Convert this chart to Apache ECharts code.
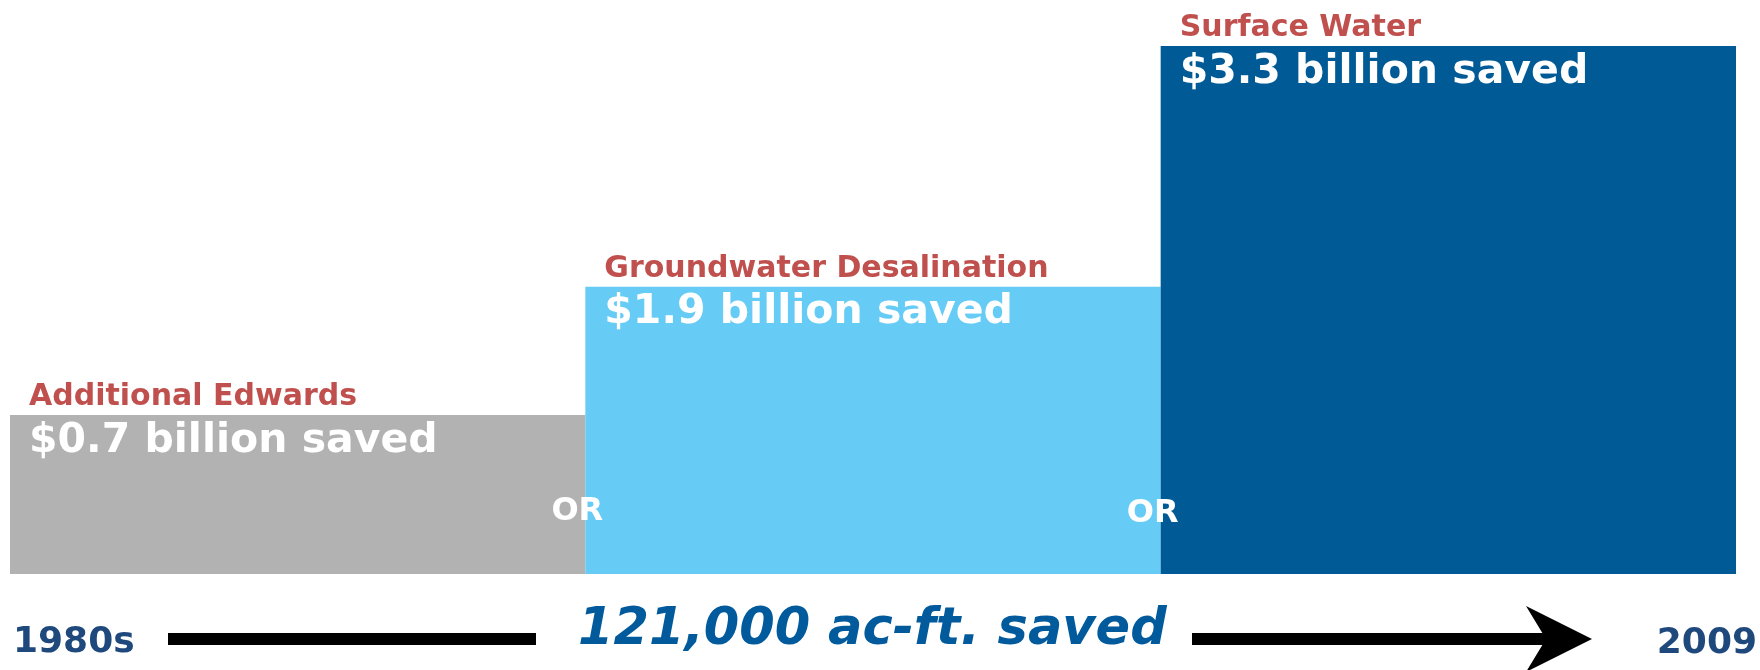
<!DOCTYPE html>
<html>
<head>
<meta charset="utf-8">
<script src="https://cdn.jsdelivr.net/npm/echarts@6/dist/echarts.min.js"></script>
<style>
html,body{margin:0;padding:0;background:#fff;}
#chart{width:1760px;height:670px;}
</style>
</head>
<body>
<div id="chart"></div>
<script>
// ---- data ----
var categories = ['Additional Edwards', 'Groundwater Desalination', 'Surface Water'];
var relativeHeight = [30.1, 54.4, 100];          // bar heights (relative scale)
var billionSaved = [0.7, 1.9, 3.3];               // $ billion saved
var orMarks = [[1, 11.8], [2, 11.5]];             // "OR" markers at category boundaries
var startLabel = '1980s';
var endLabel = '2009';
var centerLabel = '121,000 ac-ft. saved';
var barColors = ['#B2B2B2', '#66CCF5', '#005A96'];

var FONT = 'DejaVu Sans';
var chart = echarts.init(document.getElementById('chart'), null, {renderer: 'canvas'});

var option = {
  backgroundColor: '#ffffff',
  animation: false,
  grid: {left: 10, right: 24, top: 46, bottom: 96, containLabel: false},
  xAxis: [
    {type: 'category', data: categories, show: false, boundaryGap: true},
    {type: 'value', min: 0, max: 3, show: false}
  ],
  yAxis: {type: 'value', min: 0, max: 100, show: false},
  series: [
    {
      type: 'bar',
      xAxisIndex: 0,
      barCategoryGap: 0,
      barGap: 0,
      data: relativeHeight.map(function (v, i) {
        return {value: v, itemStyle: {color: barColors[i]}};
      }),
      label: {
        show: true,
        position: [19, -38],
        formatter: function (p) {
          return '{n|' + categories[p.dataIndex] + '}\n{v|$' + billionSaved[p.dataIndex].toFixed(1) + ' billion saved}';
        },
        rich: {
          n: {fontFamily: FONT, fontWeight: 'bold', fontSize: 30, color: '#C0504D', lineHeight: 40},
          v: {fontFamily: FONT, fontWeight: 'bold', fontSize: 41, color: '#FFFFFF', lineHeight: 48}
        }
      }
    },
    {
      type: 'scatter',
      xAxisIndex: 1,
      symbolSize: 0,
      itemStyle: {opacity: 1},
      data: orMarks,
      label: {
        show: true,
        position: 'inside',
        offset: [-8, 0],
        formatter: 'OR',
        fontFamily: FONT,
        fontWeight: 'bold',
        fontSize: 32,
        color: '#FFFFFF',
        opacity: 1
      },
      z: 5
    }
  ],
  graphic: [
    {type: 'text', x: 13, y: 643, style: {text: startLabel, font: 'bold 36px "DejaVu Sans"', fill: '#1F497D', textVerticalAlign: 'middle', textAlign: 'left'}},
    {type: 'text', x: 1757, y: 644, style: {text: endLabel, font: 'bold 36px "DejaVu Sans"', fill: '#1F497D', textVerticalAlign: 'middle', textAlign: 'right'}},
    {type: 'text', x: 578, y: 631, style: {text: centerLabel, font: 'italic bold 51px "DejaVu Sans"', fill: '#005A9C', textVerticalAlign: 'middle', textAlign: 'left'}},
    {type: 'rect', shape: {x: 168, y: 633, width: 368, height: 12}, style: {fill: '#000'}},
    {type: 'rect', shape: {x: 1192, y: 633, width: 356, height: 12}, style: {fill: '#000'}},
    {type: 'polygon', shape: {points: [[1526, 606], [1592, 639], [1526, 672], [1546, 639]]}, style: {fill: '#000'}}
  ]
};
chart.setOption(option);
</script>
</body>
</html>
